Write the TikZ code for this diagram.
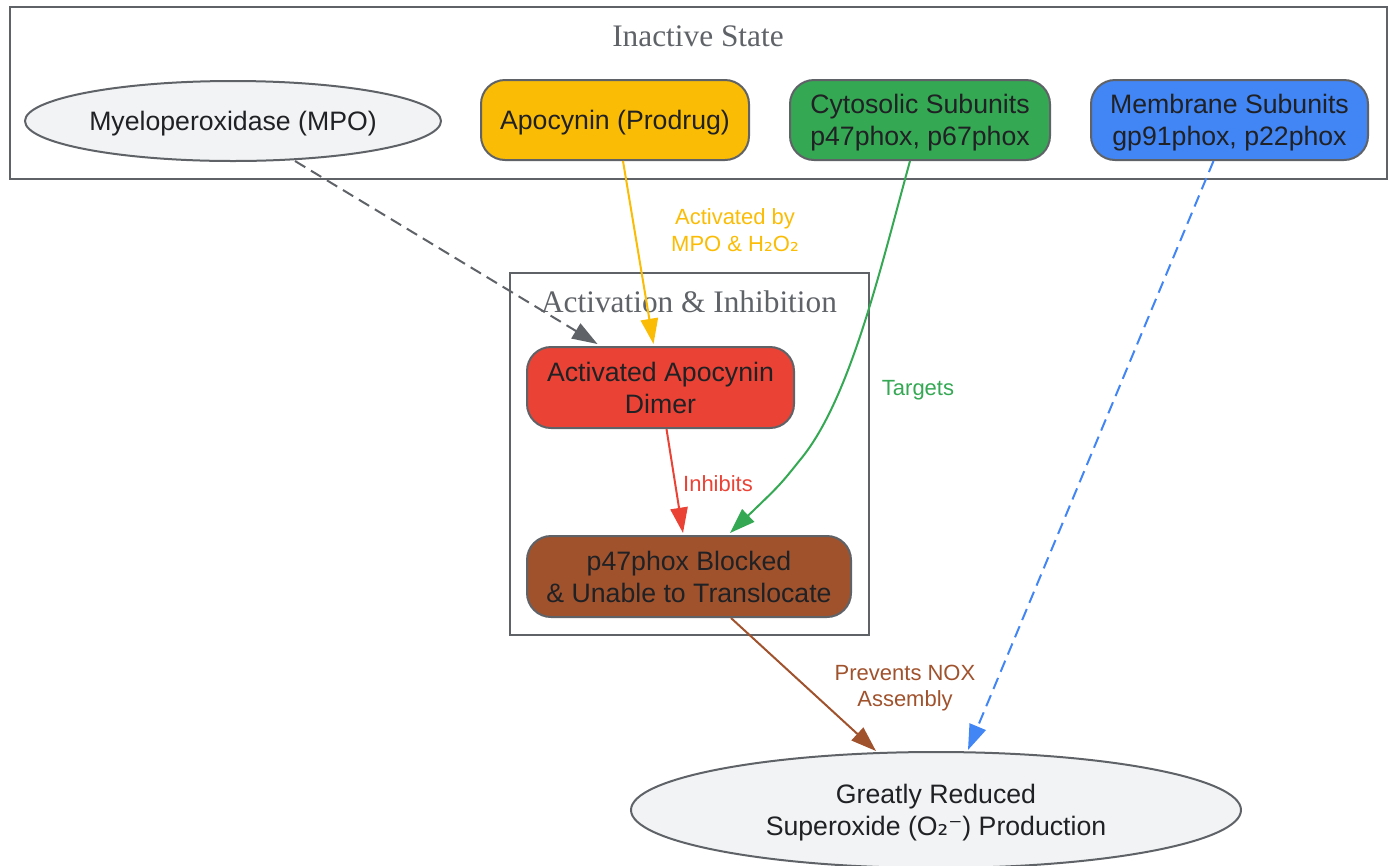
\documentclass[tikz,border=0pt]{standalone}
\usepackage{fontspec}
\setmainfont{Liberation Sans}
\newfontfamily\serifttl{Liberation Serif}
\newfontfamily\dejavu{DejaVu Sans}
\usetikzlibrary{arrows.meta,calc,shapes.geometric}
\definecolor{ggray}{HTML}{5F6368}
\definecolor{gfill}{HTML}{F1F3F4}
\definecolor{gtext}{HTML}{202124}
\definecolor{gyellow}{HTML}{FBBC05}
\definecolor{ggreen}{HTML}{34A853}
\definecolor{gblue}{HTML}{4285F4}
\definecolor{gred}{HTML}{EA4335}
\definecolor{gbrown}{HTML}{A0522D}
\tikzset{
  basenode/.style={draw=ggray, line width=1.5pt, text=gtext, align=center, inner sep=0pt,
    text depth=0pt, font=\fontsize{20}{24}\selectfont},
  ellnode/.style={basenode, ellipse, fill=gfill},
  boxnode/.style={basenode, rectangle, rounded corners=18pt, minimum height=60pt},
  cluster/.style={draw=ggray, line width=1.5pt},
  clustertitle/.style={text=ggray, font=\serifttl\fontsize{23.5}{28}\selectfont},
  conn/.style={line width=1.5pt, -{Triangle[length=19pt,width=13pt]}},
  elabel/.style={align=center, font=\fontsize{16.5}{20}\selectfont},
}
\begin{document}
\begin{tikzpicture}[x=0.75pt,y=-0.75pt]
\useasboundingbox (0,0) rectangle (1393,865);
% clusters
\draw[cluster] (10,7) rectangle (1387,179);
\node[clustertitle] (t1) at (698,36) {Inactive State};
\draw[cluster] (510,273) rectangle (869,635);
\node[clustertitle] (t2) at (689,302) {Activation \& Inhibition};
% nodes
\node[ellnode, minimum width=312pt, minimum height=60pt] (mpo) at (233,121) {Myeloperoxidase (MPO)};
\node[boxnode, fill=gyellow, minimum width=201pt] (apo) at (615,120) {Apocynin (Prodrug)};
\node[boxnode, fill=ggreen, minimum width=195pt] (cyt) at (920,120) {Cytosolic Subunits\\p47phox, p67phox};
\node[boxnode, fill=gblue, minimum width=207.75pt] (mem) at (1229.5,120) {Membrane Subunits\\gp91phox, p22phox};
\node[boxnode, fill=gred, minimum width=200.25pt, minimum height=60.75pt] (dim) at (660.5,387.5) {Activated Apocynin\\Dimer};
\node[boxnode, fill=gbrown, minimum width=243pt, minimum height=60.75pt] (p47) at (689,576.5) {p47phox Blocked\\\& Unable to Translocate};
\node[ellnode, minimum width=457.5pt, minimum height=87pt] (red) at (936,810) {Greatly Reduced\\Superoxide (O{\dejavu ₂⁻}) Production};
% edges
\draw[conn, ggray, dashed, dash pattern=on 9pt off 5pt] ($(mpo.south)+(62,-1)$) -- ($(dim.north)+(-63,-2)$);
\draw[conn, gyellow] ($(apo.south)+(8,0)$) -- ($(dim.north)+(-7,-2)$);
\node[elabel, text=gyellow] (l1) at (735,230) {Activated by\\MPO \& H{\dejavu ₂}O{\dejavu ₂}};
\draw[conn, ggreen] ($(cyt.south)+(-10,0)$) .. controls (880,270) and (850,400) .. (800,460)
   .. controls (780,485) .. ($(p47.north)+(41,-2)$);
\node[elabel, text=ggreen] (l2) at (918,390) {Targets};
\draw[conn, gblue, dashed, dash pattern=on 9pt off 5pt] ($(mem.south)+(-16,0)$) -- ($(red.north)+(32,-1)$);
\draw[conn, gred] ($(dim.south)+(6,0)$) -- ($(p47.north)+(-6,-2)$);
\node[elabel, text=gred] (l3) at (718,484) {Inhibits};
\draw[conn, gbrown] ($(p47.south)+(42,0)$) -- ($(red.north)+(-60,0)$);
\node[elabel, text=gbrown] (l4) at (905,688) {Prevents NOX\\Assembly};
\end{tikzpicture}
\end{document}
